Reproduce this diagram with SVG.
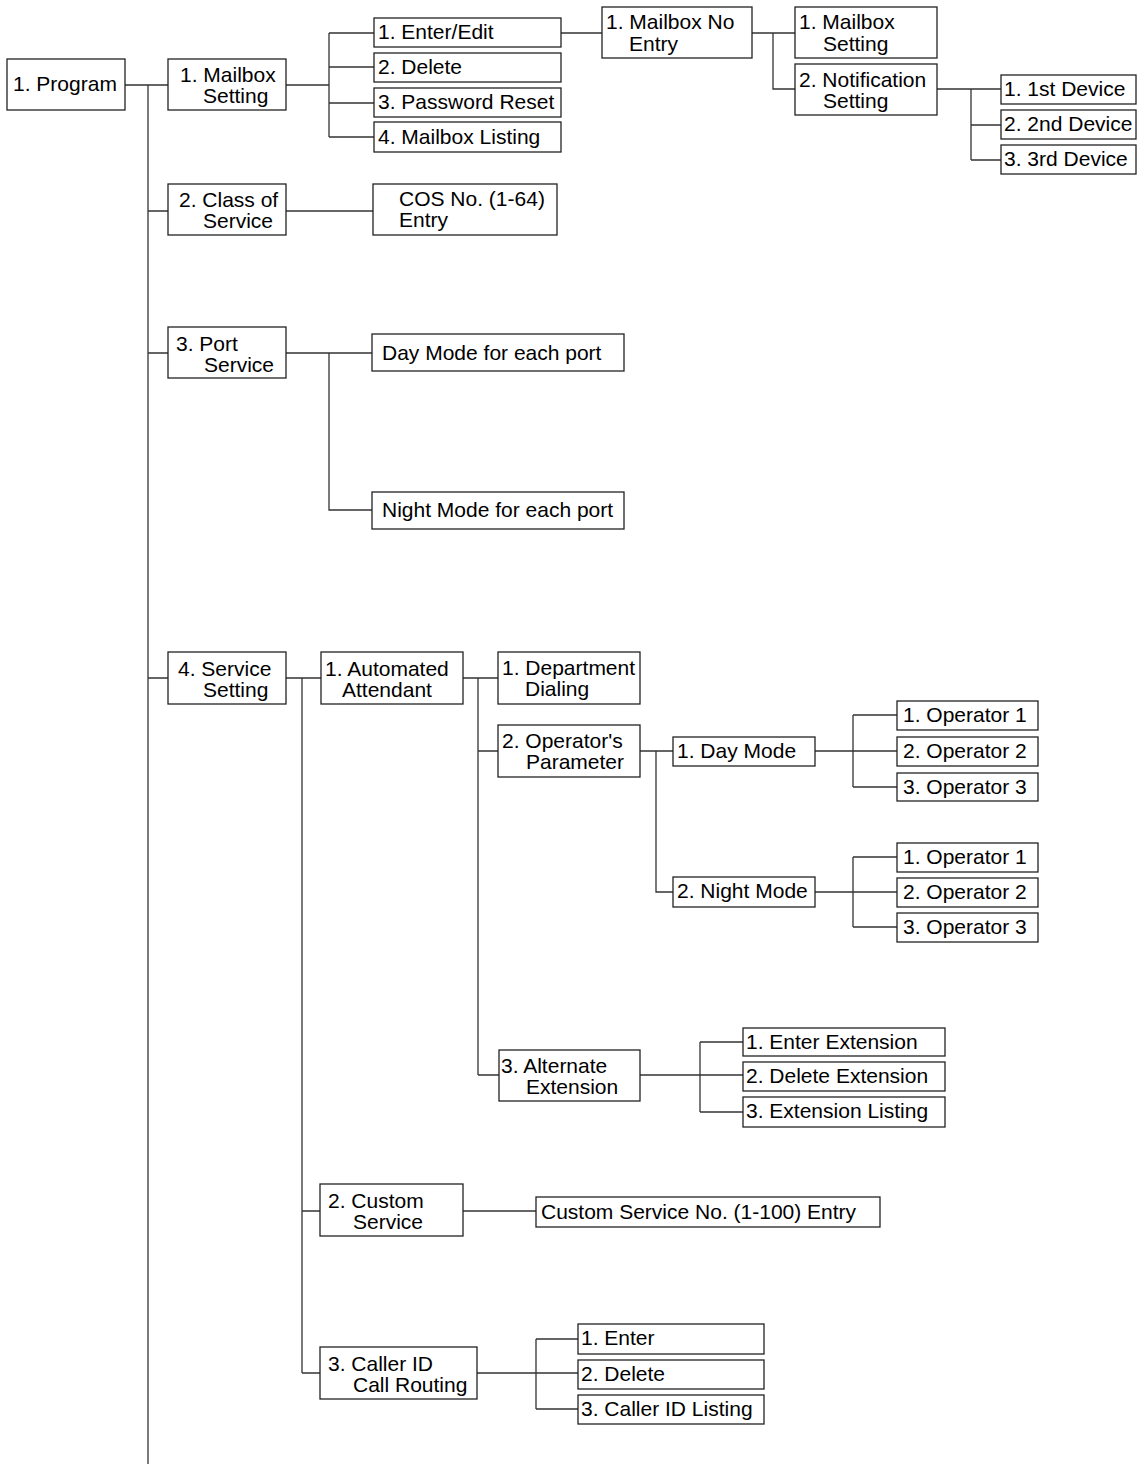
<svg xmlns="http://www.w3.org/2000/svg" width="1137" height="1464" viewBox="0 0 1137 1464">
<style>
rect.b{fill:#fff;stroke:#222;stroke-width:1.3}
text{font-family:"Liberation Sans",Arial,sans-serif;font-size:21px;fill:#000}
#connectors path{fill:none;stroke:#333;stroke-width:1.3}
</style>
<rect x="0" y="0" width="1137" height="1464" fill="#fff"/>
<g id="connectors">
<path d="M148 85V1464M125 85H168M148 211H168M148 353H168M148 678H168"/>
<path d="M286 85H329M329 33V137M329 33H374M329 67H374M329 103H374M329 137H374"/>
<path d="M561 33H602M752 33H795M773 33V89H795"/>
<path d="M937 89H1001M971 89V160M971 125H1001M971 160H1001"/>
<path d="M286 211H373"/>
<path d="M286 353H372M329 353V510H372"/>
<path d="M286 678H321M302 678V1373M302 1211H320M302 1373H320"/>
<path d="M463 678H498M478 678V1075M478 751H498M478 1075H499"/>
<path d="M640 751H673M656 751V892H673"/>
<path d="M815 751H897M853 715V787M853 715H897M853 787H897"/>
<path d="M815 892H897M853 857V927M853 857H897M853 927H897"/>
<path d="M640 1075H743M700 1042V1112M700 1042H743M700 1112H743"/>
<path d="M463 1211H536"/>
<path d="M477 1373H578M536 1339V1409M536 1339H578M536 1409H578"/>
</g>
<g id="n_program"><rect class="b" x="7" y="59" width="118" height="51"/><text x="13" y="91">1. Program</text></g>
<g id="n_mailbox"><rect class="b" x="168" y="59" width="118" height="51"/><text x="180" y="82">1. Mailbox</text><text x="203" y="103">Setting</text></g>
<g id="n_enteredit"><rect class="b" x="374" y="18" width="187" height="29"/><text x="378" y="39">1. Enter/Edit</text></g>
<g id="n_delete"><rect class="b" x="374" y="53" width="187" height="29"/><text x="378" y="74">2. Delete</text></g>
<g id="n_pwreset"><rect class="b" x="374" y="88" width="187" height="29"/><text x="378" y="109">3. Password Reset</text></g>
<g id="n_mblist"><rect class="b" x="374" y="122" width="187" height="30"/><text x="378" y="144">4. Mailbox Listing</text></g>
<g id="n_mbnoentry"><rect class="b" x="602" y="7" width="150" height="51"/><text x="606" y="29">1. Mailbox No</text><text x="629" y="51">Entry</text></g>
<g id="n_mbsetting"><rect class="b" x="795" y="7" width="142" height="51"/><text x="799" y="29">1. Mailbox</text><text x="823" y="51">Setting</text></g>
<g id="n_notif"><rect class="b" x="795" y="64" width="142" height="51"/><text x="799" y="87">2. Notification</text><text x="823" y="108">Setting</text></g>
<g id="n_dev1"><rect class="b" x="1001" y="75" width="135" height="29"/><text x="1004" y="96">1. 1st Device</text></g>
<g id="n_dev2"><rect class="b" x="1001" y="110" width="135" height="29"/><text x="1004" y="131">2. 2nd Device</text></g>
<g id="n_dev3"><rect class="b" x="1001" y="145" width="135" height="29"/><text x="1004" y="166">3. 3rd Device</text></g>
<g id="n_cos"><rect class="b" x="168" y="184" width="118" height="51"/><text x="179" y="207">2. Class of</text><text x="203" y="228">Service</text></g>
<g id="n_cosentry"><rect class="b" x="373" y="184" width="184" height="51"/><text x="399" y="206">COS No. (1-64)</text><text x="399" y="227">Entry</text></g>
<g id="n_port"><rect class="b" x="168" y="327" width="118" height="51"/><text x="176" y="351">3. Port</text><text x="204" y="372">Service</text></g>
<g id="n_daymodeport"><rect class="b" x="372" y="334" width="252" height="37"/><text x="382" y="360">Day Mode for each port</text></g>
<g id="n_nightmodeport"><rect class="b" x="372" y="492" width="252" height="37"/><text x="382" y="517">Night Mode for each port</text></g>
<g id="n_service"><rect class="b" x="168" y="652" width="118" height="52"/><text x="178" y="676">4. Service</text><text x="203" y="697">Setting</text></g>
<g id="n_aa"><rect class="b" x="321" y="652" width="142" height="52"/><text x="325" y="676">1. Automated</text><text x="342" y="697">Attendant</text></g>
<g id="n_dept"><rect class="b" x="498" y="652" width="142" height="52"/><text x="502" y="675">1. Department</text><text x="525" y="696">Dialing</text></g>
<g id="n_opparam"><rect class="b" x="498" y="725" width="142" height="52"/><text x="502" y="748">2. Operator's</text><text x="526" y="769">Parameter</text></g>
<g id="n_daymode"><rect class="b" x="673" y="737" width="142" height="29"/><text x="677" y="758">1. Day Mode</text></g>
<g id="n_nightmode"><rect class="b" x="673" y="877" width="142" height="30"/><text x="677" y="898">2. Night Mode</text></g>
<g id="n_dop1"><rect class="b" x="897" y="701" width="141" height="29"/><text x="903" y="722">1. Operator 1</text></g>
<g id="n_dop2"><rect class="b" x="897" y="737" width="141" height="29"/><text x="903" y="758">2. Operator 2</text></g>
<g id="n_dop3"><rect class="b" x="897" y="773" width="141" height="28"/><text x="903" y="794">3. Operator 3</text></g>
<g id="n_nop1"><rect class="b" x="897" y="843" width="141" height="29"/><text x="903" y="864">1. Operator 1</text></g>
<g id="n_nop2"><rect class="b" x="897" y="878" width="141" height="29"/><text x="903" y="899">2. Operator 2</text></g>
<g id="n_nop3"><rect class="b" x="897" y="913" width="141" height="29"/><text x="903" y="934">3. Operator 3</text></g>
<g id="n_alt"><rect class="b" x="499" y="1050" width="141" height="51"/><text x="501" y="1073">3. Alternate</text><text x="526" y="1094">Extension</text></g>
<g id="n_enterext"><rect class="b" x="743" y="1028" width="202" height="28"/><text x="746" y="1049">1. Enter Extension</text></g>
<g id="n_delext"><rect class="b" x="743" y="1062" width="202" height="29"/><text x="746" y="1083">2. Delete Extension</text></g>
<g id="n_extlist"><rect class="b" x="743" y="1097" width="202" height="30"/><text x="746" y="1118">3. Extension Listing</text></g>
<g id="n_custom"><rect class="b" x="320" y="1184" width="143" height="52"/><text x="328" y="1208">2. Custom</text><text x="353" y="1229">Service</text></g>
<g id="n_customentry"><rect class="b" x="536" y="1197" width="344" height="30"/><text x="541" y="1219">Custom Service No. (1-100) Entry</text></g>
<g id="n_callerid"><rect class="b" x="320" y="1347" width="157" height="52"/><text x="328" y="1371">3. Caller ID</text><text x="353" y="1392">Call Routing</text></g>
<g id="n_enter"><rect class="b" x="578" y="1324" width="186" height="30"/><text x="581" y="1345">1. Enter</text></g>
<g id="n_delete2"><rect class="b" x="578" y="1360" width="186" height="29"/><text x="581" y="1381">2. Delete</text></g>
<g id="n_cidlist"><rect class="b" x="578" y="1395" width="186" height="29"/><text x="581" y="1416">3. Caller ID Listing</text></g>
</svg>
